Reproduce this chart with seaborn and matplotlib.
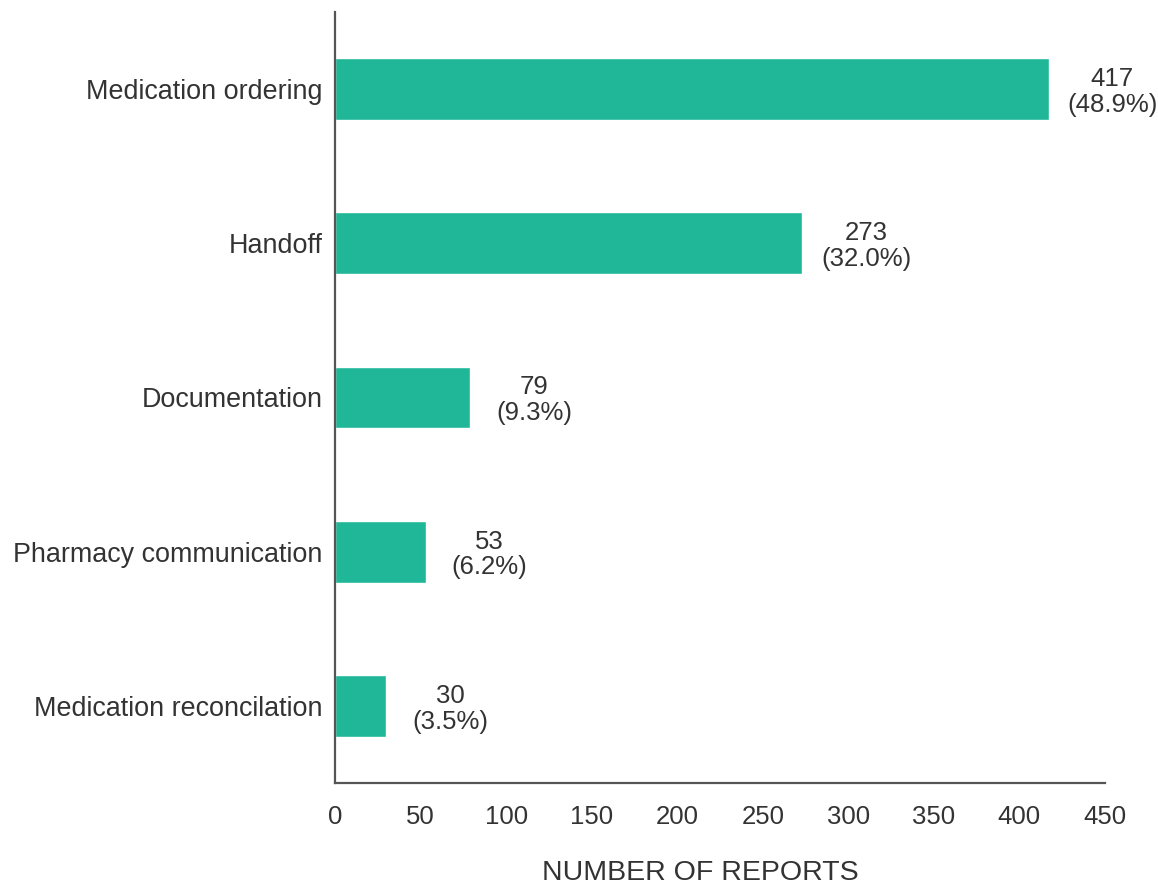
import matplotlib
matplotlib.use("Agg")
import matplotlib.pyplot as plt
import seaborn as sns

# data
categories = ["Medication ordering", "Handoff", "Documentation",
              "Pharmacy communication", "Medication reconcilation"]
reports = [417, 273, 79, 53, 30]
percents = [48.9, 32.0, 9.3, 6.2, 3.5]

sns.set_style("white")
plt.rcParams["font.family"] = ["Liberation Sans", "DejaVu Sans"]
text_color = "#333333"

fig = plt.figure(figsize=(11.58, 8.85), dpi=100)
ax = fig.add_axes([0.2893, 0.1153, 0.6649, 0.8711])

sns.barplot(x=reports, y=categories, color="#20B799", width=0.4,
            saturation=1, ax=ax)

for i, (n, p) in enumerate(zip(reports, percents)):
    ax.annotate(f"{n}\n({p:.1f}%)", xy=(n, i), xytext=(46, -2),
                textcoords="offset points", ha="center", va="center",
                fontsize=18.5, color=text_color, linespacing=1.1)

ax.set_xlim(0, 450)
ax.set_ylim(4.5, -0.5)
ax.set_xticks(range(0, 451, 50))
ax.tick_params(axis="x", length=0, labelsize=18.5, labelcolor=text_color, pad=16)
ax.tick_params(axis="y", length=0, labelsize=19.4, labelcolor=text_color, pad=9)
ax.set_xlabel("NUMBER OF REPORTS", fontsize=20.5, color=text_color)
ax.xaxis.set_label_coords(0.474, -0.117)
ax.xaxis.label.set_va("center")
ax.set_ylabel("")

sns.despine(ax=ax)
for side in ["left", "bottom"]:
    ax.spines[side].set_color("#555555")
    ax.spines[side].set_linewidth(1.6)

fig.savefig("out.png", dpi=100)
